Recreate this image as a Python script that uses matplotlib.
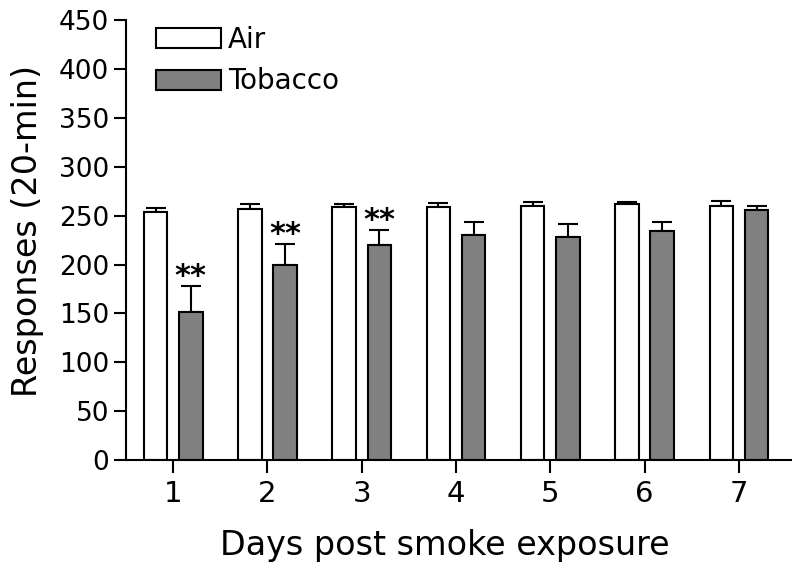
import numpy as np
import matplotlib.pyplot as plt

plt.rcParams['font.family'] = ['DejaVu Sans']

days = [1, 2, 3, 4, 5, 6, 7]
air = [254, 257, 259, 259, 260, 262, 260]
air_sem = [3.5, 4.5, 3, 3.5, 3.5, 2, 4.5]
tobacco = [152, 200, 220, 230, 228, 234, 256]
tobacco_sem = [26, 21, 15, 13, 13, 10, 4]
signif = ['**', '**', '**', '', '', '', '']

x = np.array(days)
w = 0.25
off = 0.187

fig = plt.figure(figsize=(8, 5.71), dpi=100)
ax = fig.add_axes([0.1575, 0.194, 0.831, 0.771])

ax.bar(x - off, air, w, color='white', edgecolor='black', linewidth=1.5,
       label='Air', zorder=2)
ax.bar(x + off, tobacco, w, color='#808080', edgecolor='black', linewidth=1.5,
       label='Tobacco', zorder=2)
ax.errorbar(x - off, air, yerr=[np.zeros(7), air_sem], fmt='none',
            ecolor='black', elinewidth=1.5, capsize=7, capthick=1.5, zorder=1)
ax.errorbar(x + off, tobacco, yerr=[np.zeros(7), tobacco_sem], fmt='none',
            ecolor='black', elinewidth=1.5, capsize=7, capthick=1.5, zorder=1)

# significance stars above the tobacco bars
for xi, v, e, s in zip(x, tobacco, tobacco_sem, signif):
    if s:
        ax.text(xi + off, v + e + 1, s, ha='center', va='baseline',
                fontsize=22, fontweight='bold')

ax.set_xlim(0.5, 7.55)
ax.set_ylim(0, 450)
ax.set_yticks(np.arange(0, 451, 50))
ax.set_xticks(days)
ax.tick_params(axis='y', labelsize=19, length=9, width=1.5, direction='out',
               pad=3)
ax.tick_params(axis='x', labelsize=21, length=9, width=1.5, direction='out',
               pad=5)
for s in ['top', 'right']:
    ax.spines[s].set_visible(False)
for s in ['left', 'bottom']:
    ax.spines[s].set_linewidth(1.5)

ax.set_xlabel('Days post smoke exposure', fontsize=24, labelpad=15)
ax.set_ylabel('Responses (20-min)', fontsize=24, labelpad=11)
ax.xaxis.label.set_x(0.48)
ax.yaxis.label.set_y(0.52)

ax.legend(loc='upper left', bbox_to_anchor=(0.045, 0.987), frameon=False,
          fontsize=20, handlelength=2.34, handleheight=0.72, handletextpad=0.25,
          labelspacing=0.49, borderpad=0, borderaxespad=0)

fig.savefig('out.png', dpi=100)
